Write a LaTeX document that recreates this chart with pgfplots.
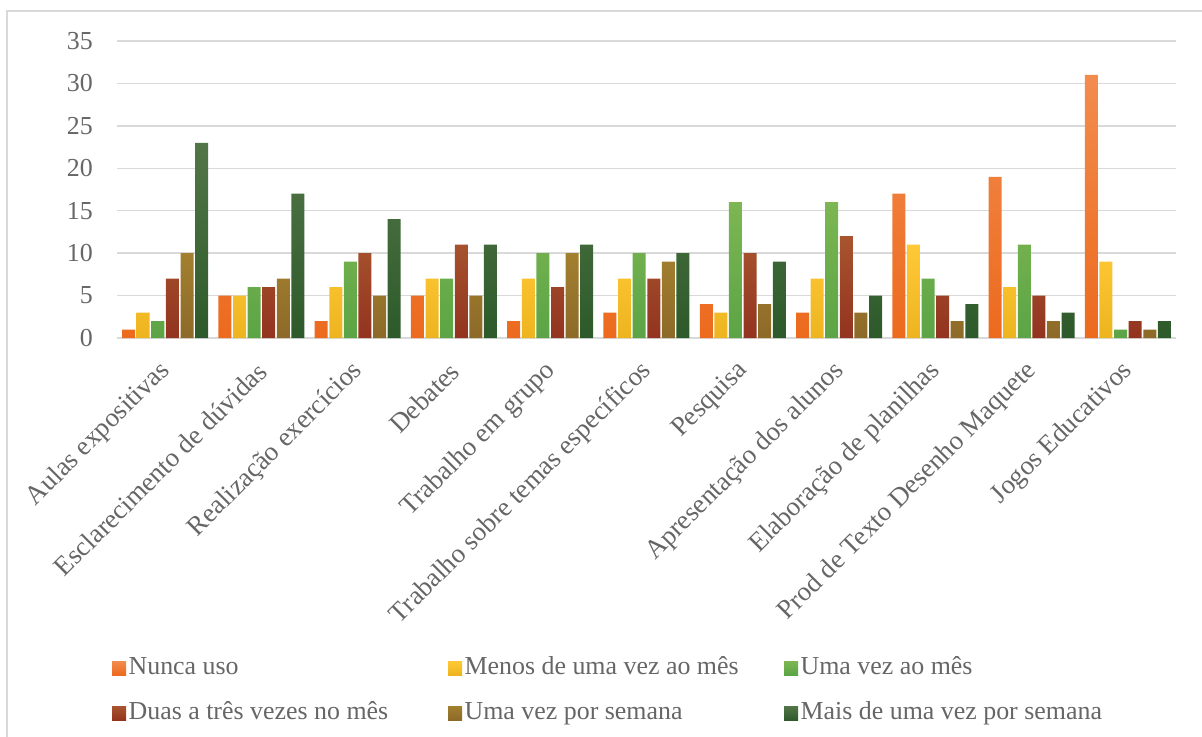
\documentclass[border=0pt]{standalone}
\usepackage{fontspec}
\setmainfont{Liberation Serif}
\usepackage{pgfplots}
\pgfplotsset{compat=1.18}
\definecolor{txt}{HTML}{666666}
\definecolor{gridc}{HTML}{D9D9D9}
\definecolor{c1t}{HTML}{F28C4E}\definecolor{c1b}{HTML}{EC6A1E}
\definecolor{c2t}{HTML}{FFC935}\definecolor{c2b}{HTML}{EDB420}
\definecolor{c3t}{HTML}{7DB653}\definecolor{c3b}{HTML}{5BA445}
\definecolor{c4t}{HTML}{A8552F}\definecolor{c4b}{HTML}{92331F}
\definecolor{c5t}{HTML}{A2802F}\definecolor{c5b}{HTML}{8D6928}
\definecolor{c6t}{HTML}{537648}\definecolor{c6b}{HTML}{2D5A2A}
\pgfplotstableread{
x a b c d e f
0 1 3 2 7 10 23
1 5 5 6 6 7 17
2 2 6 9 10 5 14
3 5 7 7 11 5 11
4 2 7 10 6 10 11
5 3 7 10 7 9 10
6 4 3 16 10 4 9
7 3 7 16 12 3 5
8 17 11 7 5 2 4
9 19 6 11 5 2 3
10 31 9 1 2 1 2
}\data
\begin{document}
\begin{tikzpicture}
\path[use as bounding box] (-117bp,-399bp) rectangle (1085bp,338bp);
\draw[color=gridc, line width=1.2bp] (-110bp,-420bp) -- (-110bp,327bp) -- (1120bp,327bp);
\begin{axis}[
  at={(0,0)}, anchor=south west,
  scale only axis, width=1059bp, height=297bp,
  ymin=0, ymax=35, ytick={0,5,...,35},
  xmin=-0.5, xmax=10.5, xtick={0,...,10},
  xticklabels={Aulas expositivas,Esclarecimento de dúvidas,Realização exercícios,Debates,Trabalho em grupo,Trabalho sobre temas específicos,Pesquisa,Apresentação dos alunos,Elaboração de planilhas,Prod de Texto Desenho Maquete,Jogos Educativos},
  ybar=1.6bp, bar width=13bp,
  axis line style={draw=none},
  major tick length=0pt,
  ymajorgrids, grid style={color=gridc, line width=1.5bp},
  tick label style={font=\fontsize{26}{30}\selectfont, text=txt},
  /pgf/number format/assume math mode=true,
  xticklabel style={font=\fontsize{27}{31}\selectfont, xshift=1bp, yshift=-29bp, rotate=45, anchor=east, inner sep=0pt},
  yticklabel style={inner sep=0pt, xshift=-24bp},
  legend columns=3,
  legend style={draw=none, fill=none, at={(-0.0076,-1.064)}, anchor=north west,
    font=\fontsize{26}{30}\selectfont, text=txt, row sep=21bp, column sep=0pt,
    nodes={inner ysep=0pt, inner xsep=2.5bp, text height=18bp, text depth=6bp}},
  legend image code/.code={\path[#1, draw=none] (0bp,-7bp) rectangle (14bp,7bp);},
  legend cell align=left,
]
\addplot[draw=none, top color=c1t, bottom color=c1b] table[x=x,y=a]{\data};
\addlegendentry{\makebox[317bp][l]{Nunca uso}}
\addplot[draw=none, top color=c2t, bottom color=c2b] table[x=x,y=b]{\data};
\addlegendentry{\makebox[317bp][l]{Menos de uma vez ao mês}}
\addplot[draw=none, top color=c3t, bottom color=c3b] table[x=x,y=c]{\data};
\addlegendentry{\makebox[317bp][l]{Uma vez ao mês}}
\addplot[draw=none, top color=c4t, bottom color=c4b] table[x=x,y=d]{\data};
\addlegendentry{\makebox[317bp][l]{Duas a três vezes no mês}}
\addplot[draw=none, top color=c5t, bottom color=c5b] table[x=x,y=e]{\data};
\addlegendentry{\makebox[317bp][l]{Uma vez por semana}}
\addplot[draw=none, top color=c6t, bottom color=c6b] table[x=x,y=f]{\data};
\addlegendentry{\makebox[317bp][l]{Mais de uma vez por semana}}
\end{axis}
\end{tikzpicture}
\end{document}
